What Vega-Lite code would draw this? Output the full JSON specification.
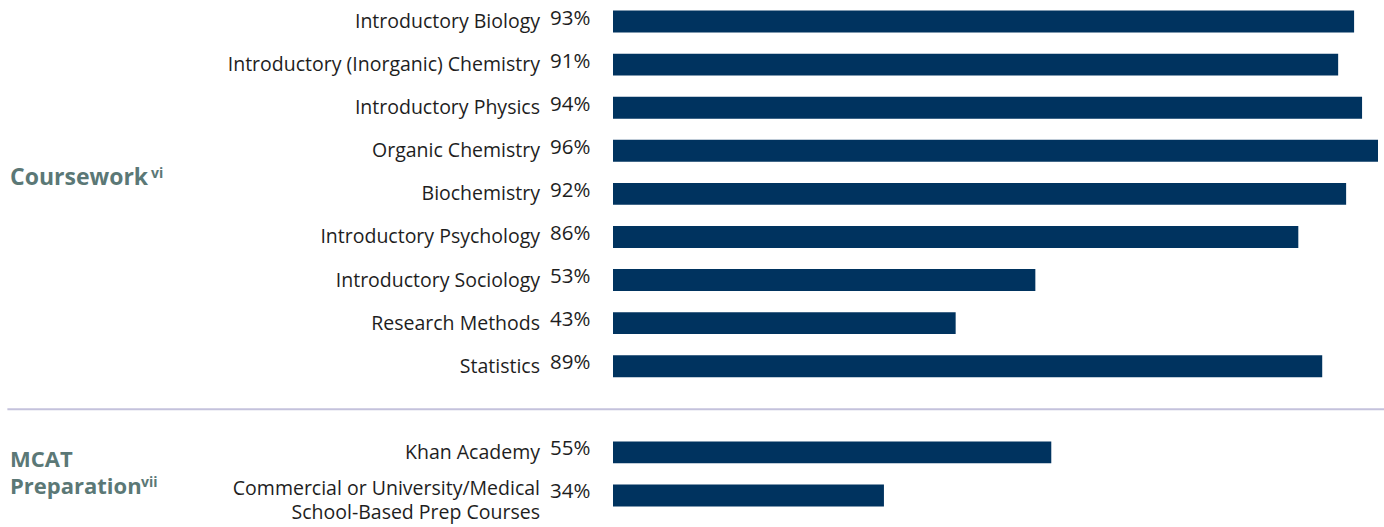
{
  "$schema": "https://vega.github.io/schema/vega-lite/v6.json",
  "width": 765,
  "height": 517,
  "autosize": {"type": "none"},
  "padding": {"left": 613, "top": 0, "right": 6, "bottom": 10},
  "background": "white",
  "config": {"view": {"stroke": null}, "text": {"font": "Open Sans"}},
  "datasets": {
    "bars": [
      {"cat": "Introductory Biology", "value": 93, "pct": "93%", "lines": 1},
      {"cat": "Introductory (Inorganic) Chemistry", "value": 91, "pct": "91%", "lines": 1},
      {"cat": "Introductory Physics", "value": 94, "pct": "94%", "lines": 1},
      {"cat": "Organic Chemistry", "value": 96, "pct": "96%", "lines": 1},
      {"cat": "Biochemistry", "value": 92, "pct": "92%", "lines": 1},
      {"cat": "Introductory Psychology", "value": 86, "pct": "86%", "lines": 1},
      {"cat": "Introductory Sociology", "value": 53, "pct": "53%", "lines": 1},
      {"cat": "Research Methods", "value": 43, "pct": "43%", "lines": 1},
      {"cat": "Statistics", "value": 89, "pct": "89%", "lines": 1},
      {"cat": "Khan Academy", "value": 55, "pct": "55%", "lines": 1},
      {"cat": "Commercial or University/Medical\nSchool-Based Prep Courses", "value": 34, "pct": "34%", "lines": 2}
    ],
    "groups": [
      {"cat": "Biochemistry", "name": "Coursework", "sup": "vi", "which": "a"},
      {"cat": "Khan Academy", "name": "MCAT\nPreparation", "sup": "vii", "which": "b"}
    ],
    "divider": [{"cat": "gap", "from": -76, "to": 97}]
  },
  "layer": [
    {
      "data": {"name": "bars"},
      "mark": {"type": "bar", "color": "#00335f"},
      "encoding": {
        "y": {
          "field": "cat",
          "type": "nominal",
          "sort": null,
          "scale": {
            "domain": [
              "Introductory Biology",
              "Introductory (Inorganic) Chemistry",
              "Introductory Physics",
              "Organic Chemistry",
              "Biochemistry",
              "Introductory Psychology",
              "Introductory Sociology",
              "Research Methods",
              "Statistics",
              "gap",
              "Khan Academy",
              "Commercial or University/Medical\nSchool-Based Prep Courses"
            ],
            "paddingInner": 0.49,
            "paddingOuter": 0.245
          },
          "axis": null
        },
        "x": {"field": "value", "type": "quantitative", "scale": {"domain": [0, 96], "nice": false, "zero": true}, "axis": null}
      }
    },
    {
      "data": {"name": "divider"},
      "mark": {"type": "rule", "color": "#c4c2dc", "strokeWidth": 2},
      "encoding": {
        "y": {"field": "cat", "type": "nominal"},
        "x": {"field": "from", "type": "quantitative"},
        "x2": {"field": "to"}
      }
    },
    {
      "data": {"name": "bars"},
      "transform": [{"filter": "datum.lines == 1"}],
      "mark": {"type": "text", "align": "right", "baseline": "middle", "dx": -73, "dy": 0.5, "fontSize": 19.5, "color": "#1e1e1e"},
      "encoding": {
        "y": {"field": "cat", "type": "nominal"},
        "x": {"datum": 0, "type": "quantitative"},
        "text": {"field": "cat"}
      }
    },
    {
      "data": {"name": "bars"},
      "transform": [{"filter": "datum.lines == 2"}],
      "mark": {"type": "text", "align": "right", "baseline": "middle", "dx": -73, "dy": -6, "fontSize": 19.5, "color": "#1e1e1e", "lineBreak": "\n", "lineHeight": 24},
      "encoding": {
        "y": {"field": "cat", "type": "nominal"},
        "x": {"datum": 0, "type": "quantitative"},
        "text": {"field": "cat"}
      }
    },
    {
      "data": {"name": "bars"},
      "mark": {"type": "text", "align": "left", "baseline": "middle", "dx": -63, "dy": -3, "fontSize": 20.5, "color": "#1e1e1e"},
      "encoding": {
        "y": {"field": "cat", "type": "nominal"},
        "x": {"datum": 0, "type": "quantitative"},
        "text": {"field": "pct"}
      }
    },
    {
      "data": {"name": "groups"},
      "transform": [{"filter": "datum.which == 'a'"}],
      "mark": {"type": "text", "align": "left", "baseline": "middle", "dx": -603, "dy": -16, "fontSize": 23, "fontWeight": "bold", "color": "#5b7876"},
      "encoding": {
        "y": {"field": "cat", "type": "nominal"},
        "x": {"datum": 0, "type": "quantitative"},
        "text": {"field": "name"}
      }
    },
    {
      "data": {"name": "groups"},
      "transform": [{"filter": "datum.which == 'a'"}],
      "mark": {"type": "text", "align": "left", "baseline": "middle", "dx": -462, "dy": -20, "fontSize": 14, "fontWeight": "bold", "color": "#5b7876"},
      "encoding": {
        "y": {"field": "cat", "type": "nominal"},
        "x": {"datum": 0, "type": "quantitative"},
        "text": {"field": "sup"}
      }
    },
    {
      "data": {"name": "groups"},
      "transform": [{"filter": "datum.which == 'b'"}],
      "mark": {"type": "text", "align": "left", "baseline": "middle", "dx": -603, "dy": 8, "fontSize": 22, "fontWeight": "bold", "color": "#5b7876", "lineBreak": "\n", "lineHeight": 27},
      "encoding": {
        "y": {"field": "cat", "type": "nominal"},
        "x": {"datum": 0, "type": "quantitative"},
        "text": {"field": "name"}
      }
    },
    {
      "data": {"name": "groups"},
      "transform": [{"filter": "datum.which == 'b'"}],
      "mark": {"type": "text", "align": "left", "baseline": "middle", "dx": -472, "dy": 31, "fontSize": 14, "fontWeight": "bold", "color": "#5b7876"},
      "encoding": {
        "y": {"field": "cat", "type": "nominal"},
        "x": {"datum": 0, "type": "quantitative"},
        "text": {"field": "sup"}
      }
    }
  ]
}
